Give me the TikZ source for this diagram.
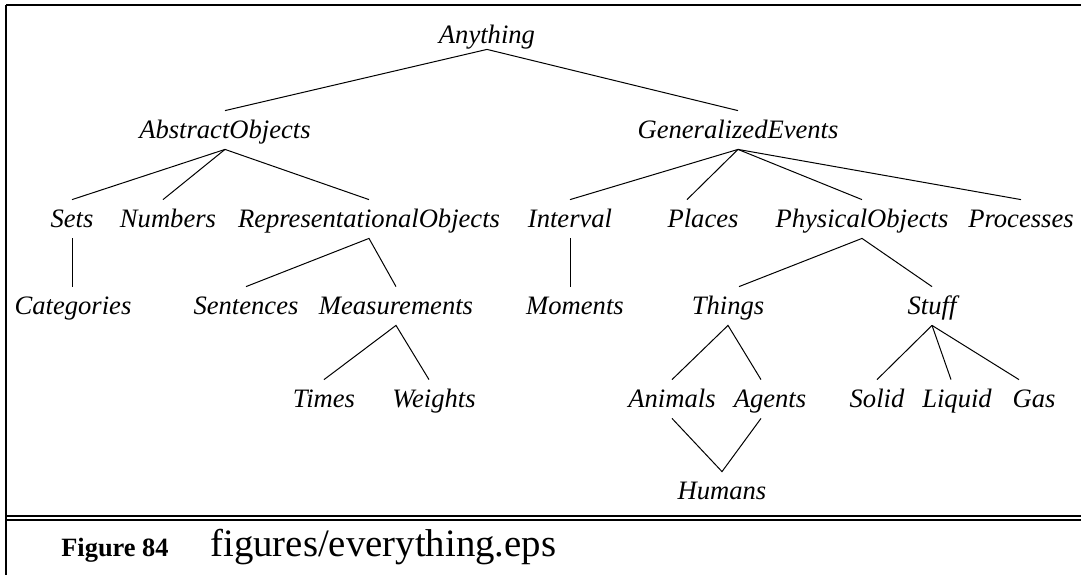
\documentclass[tikz,border=0pt]{standalone}
\usepackage{fontspec}
\setmainfont{Liberation Serif}
\usetikzlibrary{positioning}

\begin{document}
\begin{tikzpicture}[
  x=0.5pt, y=-0.5pt,
  concept/.style={anchor=base, inner xsep=0pt, inner ysep=0pt,
              text height=13.5pt, text depth=5.5pt,
              font=\fontsize{13.3}{15}\selectfont\itshape},
  link/.style={line width=0.5pt},
  rule/.style={line width=1pt},
  fignum/.style={anchor=base, inner sep=0pt,
              font=\fontsize{13.2}{15}\selectfont\bfseries},
  figfile/.style={anchor=base west, inner sep=0pt,
              font=\fontsize{19.4}{23}\selectfont},
]
\useasboundingbox (0,0) rectangle (1081,575);

% === Frame ===
\draw[rule] (6,5) -- (1081,5);
\draw[rule] (6,5) -- (6,575);
\draw[rule] (6,516) -- (1081,516);
\draw[rule] (6,520) -- (1081,520);

% === Tree ===
\node[concept] (anything) at (487,43) {Anything};

\node[concept] (abstract) at (225,138) {AbstractObjects};
\node[concept] (events) at (738,138) {GeneralizedEvents};

\node[concept] (sets) at (72,227) {Sets};
\node[concept] (numbers) at (168,227) {Numbers};
\node[concept] (repr) at (369,227) {RepresentationalObjects};
\node[concept] (interval) at (570,227) {Interval};
\node[concept] (places) at (703,227) {Places};
\node[concept] (physical) at (862,227) {PhysicalObjects};
\node[concept] (processes) at (1021,227) {Processes};

\node[concept] (categories) at (73,314) {Categories};
\node[concept] (sentences) at (246,314) {Sentences};
\node[concept] (measure) at (396,314) {Measurements};
\node[concept] (moments) at (575,314) {Moments};
\node[concept] (things) at (728,314) {Things};
\node[concept] (stuff) at (932,314) {Stuff};

\node[concept] (times) at (324,407) {Times};
\node[concept] (weights) at (434,407) {Weights};
\node[concept] (animals) at (672,407) {Animals};
\node[concept] (agents) at (770,407) {Agents};
\node[concept] (solid) at (877,407) {Solid};
\node[concept] (liquid) at (957,407) {Liquid};
\node[concept] (gas) at (1034,407) {Gas};

\node[concept] (humans) at (722,499) {Humans};

% Links
\draw[link] (abstract.north) -- ([yshift=2.5pt]anything.south) -- (events.north);
\draw[link] (abstract.south) -- (sets.north);
\draw[link] (abstract.south) -- ([xshift=-2.5pt]numbers.north);
\draw[link] (abstract.south) -- (repr.north);
\draw[link] (events.south) -- (interval.north);
\draw[link] (events.south) -- ([xshift=-8pt]places.north);
\draw[link] (events.south) -- (physical.north);
\draw[link] (events.south) -- (processes.north);
\draw[link] (sets.south) -- (sets.south |- categories.north);
\draw[link] (interval.south) -- (interval.south |- moments.north);
\draw[link] (sentences.north) -- (repr.south) -- (measure.north);
\draw[link] (times.north) -- (measure.south) -- ([xshift=-2.5pt]weights.north);
\draw[link] ([xshift=5.5pt]things.north) -- (physical.south) -- (stuff.north);
\draw[link] (animals.north) -- (things.south) -- ([xshift=-4.5pt]agents.north);
\draw[link] (animals.south) -- (humans.north) -- ([xshift=-4.5pt]agents.south);
\draw[link] (stuff.south) -- (solid.north);
\draw[link] (stuff.south) -- ([xshift=-3pt]liquid.north);
\draw[link] (stuff.south) -- ([xshift=-7.5pt]gas.north);

% === Caption ===
\node[fignum] (fignum) at (115,556) {Figure 84};
\node[figfile] (figfile) at (210,556) {figures/everything.eps};

\end{tikzpicture}
\end{document}
